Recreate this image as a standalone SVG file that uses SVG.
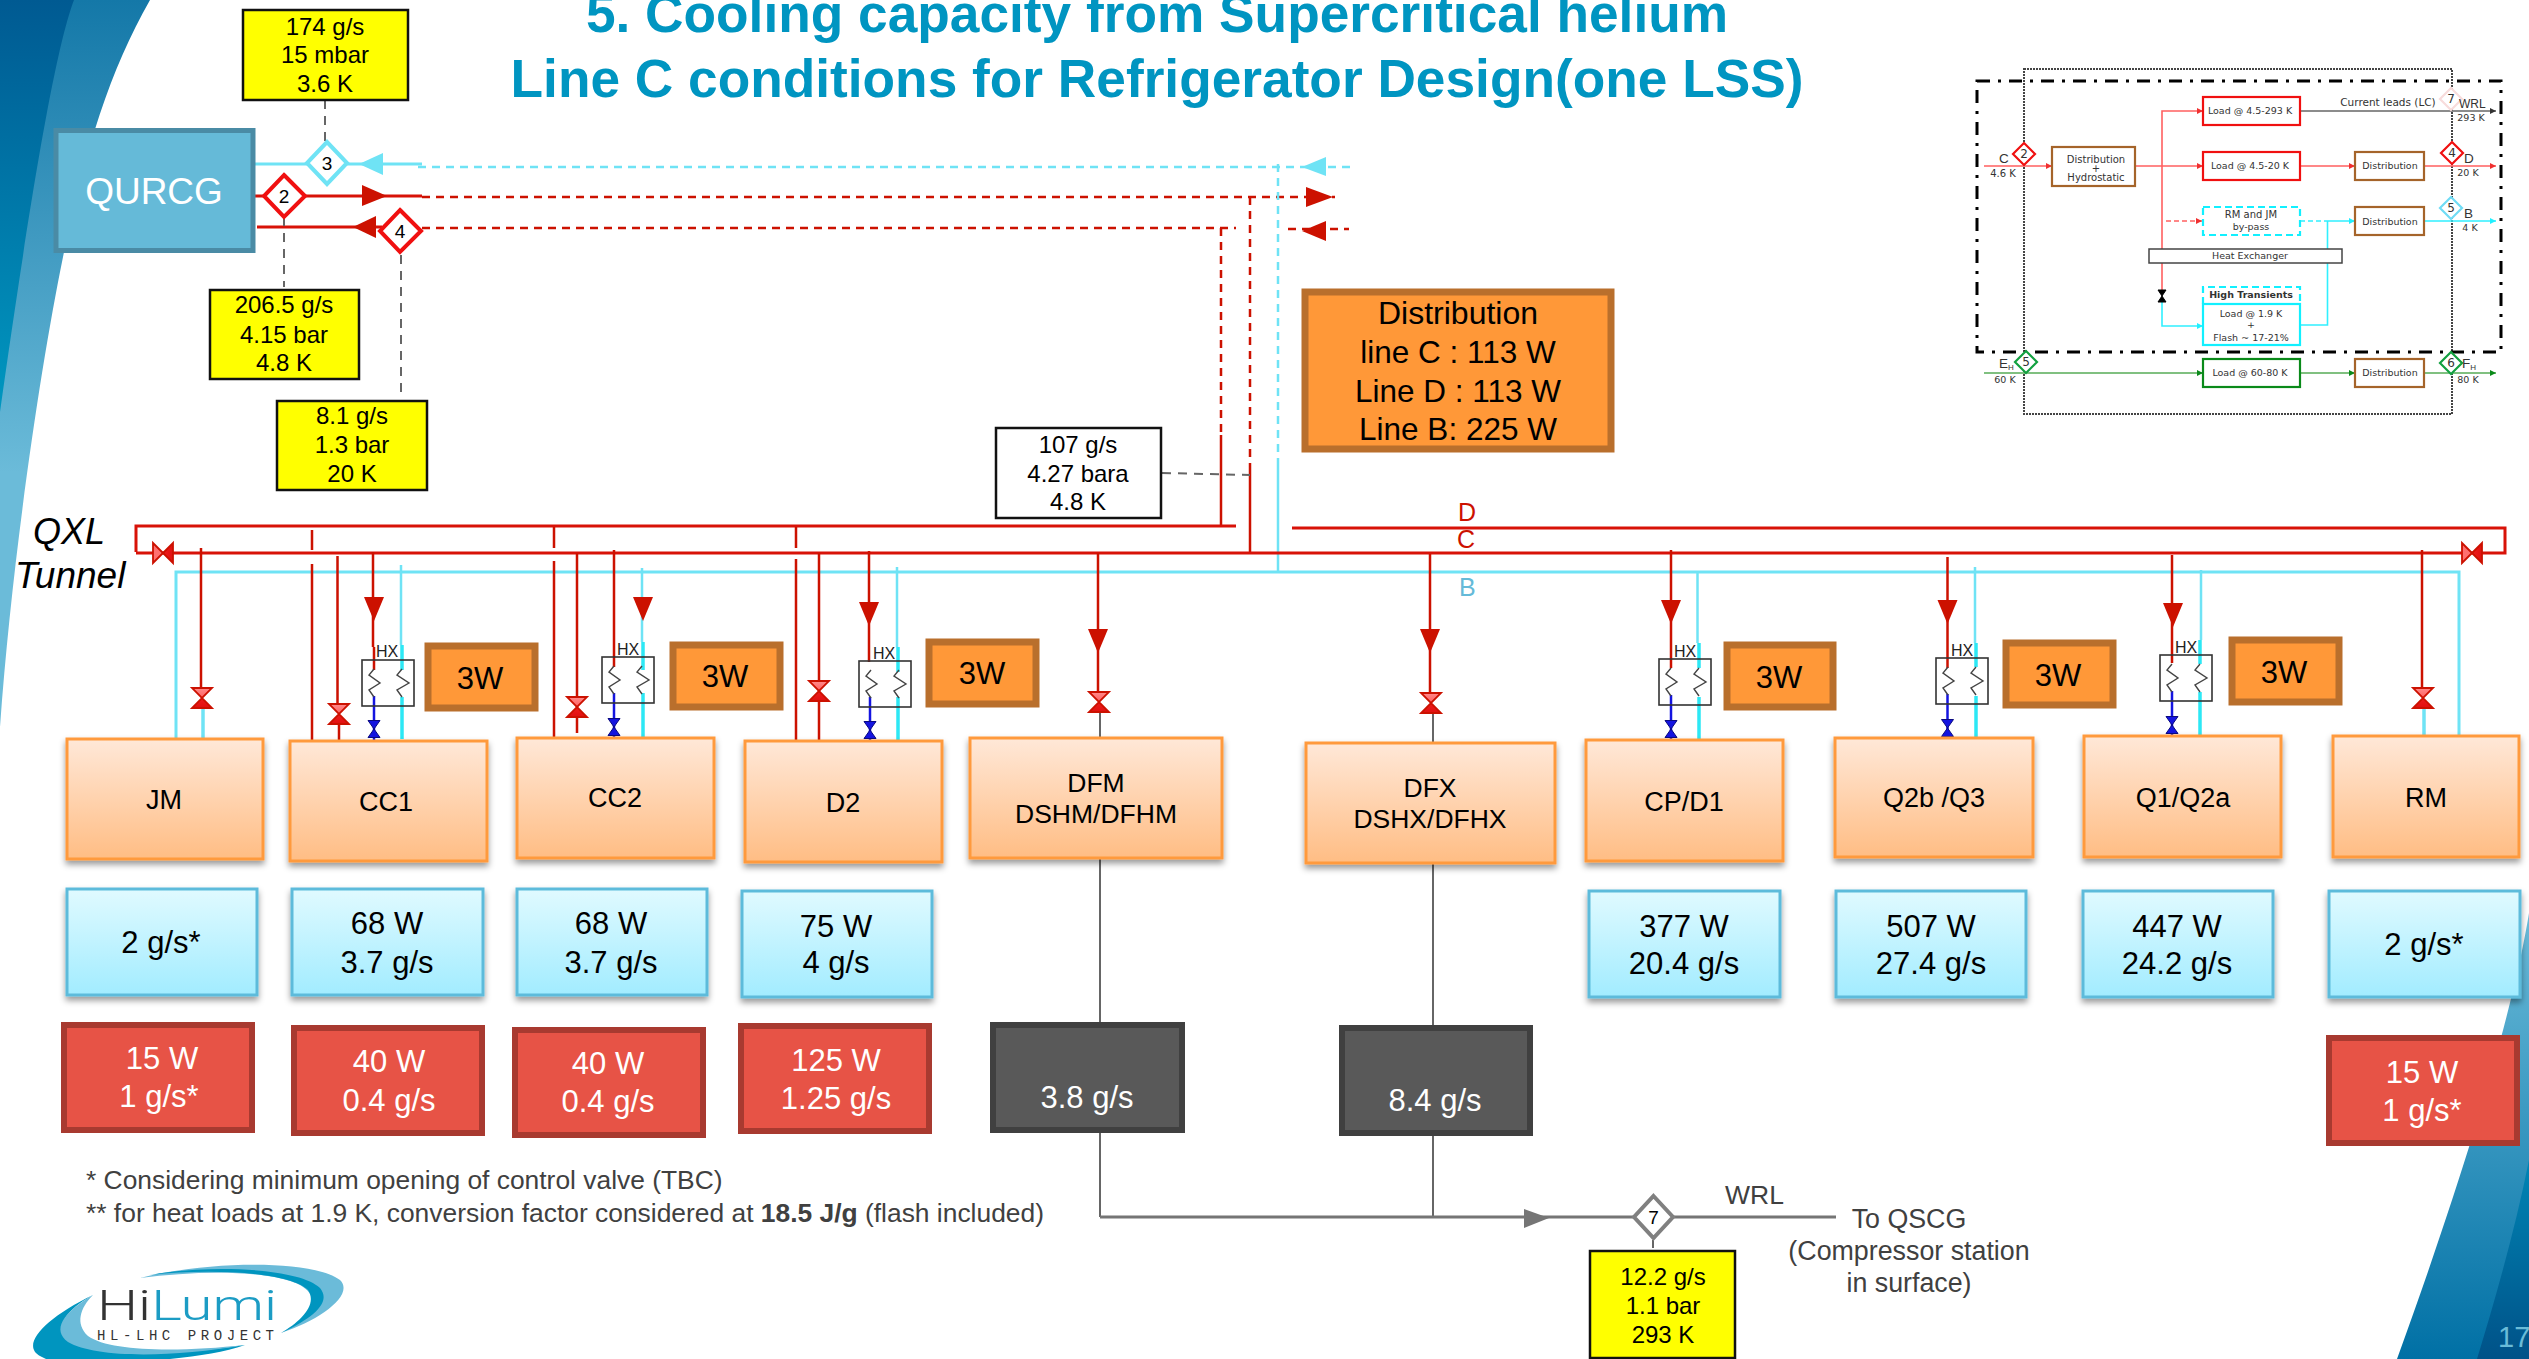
<svg xmlns="http://www.w3.org/2000/svg" width="2529" height="1359" viewBox="0 0 2529 1359">
<style>
text{font-family:"Liberation Sans",Arial,sans-serif;fill:#000}
.m{text-anchor:middle}
.title{font-size:53.25px;font-weight:bold;fill:#0095C1;text-anchor:middle}
.val{font-size:24px;text-anchor:middle}
.box{font-size:27px;text-anchor:middle}
.big{font-size:31px;text-anchor:middle}
.w{fill:#fff}
.note{font-size:26.4px;fill:#404040}
.g{fill:#404040}
.dn{font-size:19px;text-anchor:middle}
.or{fill:url(#orange);stroke:#FF9A3C;stroke-width:3;filter:url(#sh)}
.bl{fill:url(#blue);stroke:#5DBBDB;stroke-width:3;filter:url(#sh)}
.rd{fill:#E75346;stroke:#A83A30;stroke-width:6}
.gy{fill:#595959;stroke:#404040;stroke-width:6}
.w3{fill:#FF9838;stroke:#B96F2C;stroke-width:7}
.ye{fill:#FF0;stroke:#111;stroke-width:2.5}
.hxb{fill:none;stroke:#333;stroke-width:1.6}
.coil{fill:none;stroke:#444;stroke-width:1.4}
.hxt{font-size:16px;text-anchor:middle;fill:#222}
.r{fill:none;stroke:#CC1100;stroke-width:2.5}
.rt{fill:none;stroke:#D81208;stroke-width:3}
.c{fill:none;stroke:#6FE3F5;stroke-width:2.5}
.ct{fill:none;stroke:#6FE3F5;stroke-width:3}
.cb{fill:none;stroke:#2CE8F5;stroke-width:3.5}
.b{fill:none;stroke:#1414E0;stroke-width:2.5}
.k{fill:none;stroke:#666;stroke-width:2}
.kt{fill:none;stroke:#757575;stroke-width:3}
.dk{fill:none;stroke:#666;stroke-width:2;stroke-dasharray:9 7}
.rd2{stroke-dasharray:8 6}
.ar{fill:#CC1100}
.ac{fill:#6FE3F5}
.ak{fill:#757575}
.i{font-family:"DejaVu Sans",sans-serif;font-size:10px;fill:#333;text-anchor:middle}
.is{font-family:"DejaVu Sans",sans-serif;font-size:9.5px;fill:#333;text-anchor:middle}
.il{font-family:"Liberation Sans",sans-serif;font-size:13.5px;fill:#333}
.ir{fill:#fff;stroke:#F01010;stroke-width:2.2}
.ib{fill:#fff;stroke:#A5642A;stroke-width:2.2}
.ic{fill:#fff;stroke:#12F0FF;stroke-width:2.2}
.icd{fill:#fff;stroke:#12F0FF;stroke-width:2.2;stroke-dasharray:7 4}
.ig{fill:#fff;stroke:#0A8A1A;stroke-width:2.2}
.lr{fill:none;stroke:#FF6060;stroke-width:1.6}
.lc{fill:none;stroke:#30F0FF;stroke-width:1.6}
.lg{fill:none;stroke:#80C080;stroke-width:1.8}
.lk{fill:none;stroke:#666;stroke-width:1.6}
</style>
<defs>
<linearGradient id="orange" x1="0" y1="0" x2="0" y2="1"><stop offset="0" stop-color="#FFE8D8"/><stop offset="1" stop-color="#FFBD84"/></linearGradient>
<linearGradient id="blue" x1="0" y1="0" x2="0" y2="1"><stop offset="0" stop-color="#E0FAFF"/><stop offset="1" stop-color="#A2ECFF"/></linearGradient>
<linearGradient id="sw1" x1="0" y1="0" x2="0" y2="1"><stop offset="0" stop-color="#1478A8"/><stop offset=".65" stop-color="#6BBBD9"/></linearGradient>
<linearGradient id="sw2" x1="0" y1="0" x2="0" y2="1"><stop offset="0" stop-color="#005A92"/><stop offset="1" stop-color="#0097C0"/></linearGradient>
<linearGradient id="sw3" x1="0" y1="1" x2="0" y2="0"><stop offset="0" stop-color="#0070A5"/><stop offset="1" stop-color="#6BBBD9"/></linearGradient>
<linearGradient id="sw4" x1="0" y1="1" x2="0" y2="0"><stop offset="0" stop-color="#005288"/><stop offset="1" stop-color="#0085B5"/></linearGradient>
<linearGradient id="vt" x1="0" y1="0" x2="0" y2="1"><stop offset="0" stop-color="#FF8A8A"/><stop offset=".5" stop-color="#FF6060"/><stop offset=".5" stop-color="#EE1C1C"/><stop offset="1" stop-color="#E01010"/></linearGradient>
<linearGradient id="vh" x1="0" y1="0" x2="1" y2="0"><stop offset="0" stop-color="#FF7070"/><stop offset=".5" stop-color="#FF7070"/><stop offset=".5" stop-color="#EE1C1C"/><stop offset="1" stop-color="#E01010"/></linearGradient>
<filter id="sh" x="-10%" y="-10%" width="120%" height="125%"><feDropShadow dx="0" dy="4" stdDeviation="3" flood-color="#000" flood-opacity=".4"/></filter>
<polygon id="vv" points="-10,-10 10,-10 -10,10 10,10" fill="url(#vt)" stroke="#CC1100" stroke-width="1.8"/>
<polygon id="vh1" points="-10,-10 10,10 10,-10 -10,10" fill="url(#vh)" stroke="#CC1100" stroke-width="1.8"/>
<polygon id="vb" points="-6,-8.5 6,-8.5 -6,8.5 6,8.5" fill="#1414E0" stroke="#0A0A80" stroke-width="1"/>
<polygon id="ad" class="ar" points="-10,0 10,0 0,24"/>
<g id="hx">
<rect class="hxb" width="52" height="46"/>
<path class="coil" d="M12 9 L7 15 L18 23 L7 30 L12 37"/>
<path class="coil" d="M40 9 L35 15 L47 23 L35 30 L40 37"/>
</g>
</defs>
<rect width="2529" height="1359" fill="#fff"/>
<g id="background">
<path fill="url(#sw1)" d="M150 0 C110 70 85 150 63 257 C40 370 12 560 0 727 L0 0 Z"/>
<path fill="url(#sw2)" d="M74 0 C55 50 30 200 0 412 L0 0 Z"/>
<path fill="url(#sw3)" d="M2529 913 C2515 1000 2473 1150 2397 1359 L2529 1359 Z"/>
<path fill="url(#sw4)" d="M2529 1160 C2515 1230 2495 1300 2477 1359 L2529 1359 Z"/>
<text x="2498" y="1347" font-size="29" style="fill:#6ABCD8">17</text>
</g>
<text class="title" x="1157" y="32">5. Cooling capacity from Supercritical helium</text>
<text class="title" x="1157" y="97">Line C conditions for Refrigerator Design(one LSS)</text>

<g id="connectors">
<path class="ct" d="M253 164H422"/>
<path class="c rd2" d="M418 167H1350"/>
<path class="rt" d="M253 196H422"/>
<path class="r rd2" d="M422 197H1335"/>
<path class="rt" d="M257 227H382"/>
<path class="r rd2" d="M422 228H1236M1288 229H1349"/>
<path class="r rd2" d="M1221 228V435"/><path class="r" d="M1221 435V526"/>
<path class="r rd2" d="M1250 197V463"/><path class="r" d="M1250 463V552"/>
<path class="c rd2" d="M1278 164V463"/><path class="c" d="M1278 463V572"/>
<polygon class="ac" points="359,164 383,153 383,175"/>
<polygon class="ar" points="387,196 362,185 362,206"/>
<polygon class="ar" points="353,227 376,216 376,238"/>
<polygon class="ac" points="1302,167 1326,157 1326,176"/>
<polygon class="ar" points="1333,197 1306,187 1306,207"/>
<polygon class="ar" points="1302,231 1326,221 1326,241"/>
<path class="dk" d="M325 100V141M284 217V287M401 255V398M1162 473L1250 475"/>
<path class="rt" d="M136 552V526H1236M1292 528H2505V553H136"/>
<path class="ct" d="M176 739V572H2459V738"/>
<path class="r" d="M201 548V690"/><path class="cb" d="M203 708V738" style="stroke:#6FE3F5"/>
<path class="r" d="M312 530V550M312 564V741M554 527V548M554 561V738M796 527V548M796 559V741"/>
<path class="r" d="M337.5 556V705M339 722V742M373 552V647M374 647V670"/>
<path class="b" d="M374 696V740"/>
<path class="c" d="M401 565V645"/><path class="cb" d="M402 645V670M402 697V739"/>
<path class="r" d="M577 553V733M614 550V667"/>
<path class="b" d="M614 693V737"/>
<path class="c" d="M642 568V642"/><path class="cb" d="M643 642V670M643 693V737"/>
<path class="r" d="M819 553V740M869 551V662"/>
<path class="b" d="M870 697V740"/>
<path class="c" d="M897 567V647"/><path class="cb" d="M898 647V672M898 697V740"/>
<path class="r" d="M1098 553V692M1430 554V693"/>
<path class="k" d="M1100 712V737M1433 713V742M1100 858V1217M1433 863V1217"/>
<path class="kt" d="M1100 1217H1836"/>
<polygon class="ak" points="1549,1218 1524,1209 1524,1228"/>
<path class="k" d="M1653 1240V1248"/>
<path class="r" d="M1671 550V668"/><path class="b" d="M1671 695V739"/>
<path class="c" d="M1697.5 573V643"/><path class="cb" d="M1699 643V668M1699 697V739"/>
<path class="r" d="M1947.5 557V668"/><path class="b" d="M1947.5 694V738"/>
<path class="c" d="M1975 567V643"/><path class="cb" d="M1976 643V667M1976 696V738"/>
<path class="r" d="M2172 555V663"/><path class="b" d="M2172 691V735"/>
<path class="c" d="M2201 570V640"/><path class="cb" d="M2200 640V664M2200 692V735"/>
<path class="r" d="M2422 550V690"/><path class="cb" d="M2424 708V738" style="stroke:#6FE3F5"/>
<use href="#ad" x="374" y="597"/><use href="#ad" x="643" y="597"/><use href="#ad" x="869" y="602"/>
<use href="#ad" x="1098" y="629"/><use href="#ad" x="1430" y="629"/><use href="#ad" x="1671" y="600"/>
<use href="#ad" x="1947.5" y="600"/><use href="#ad" x="2173" y="603"/>
<use href="#vh1" x="163" y="553"/><use href="#vh1" x="2472" y="553"/>
<use href="#vv" x="202" y="698"/><use href="#vv" x="339" y="714"/><use href="#vv" x="577" y="707"/>
<use href="#vv" x="819" y="691"/><use href="#vv" x="1099" y="702"/><use href="#vv" x="1431" y="703"/>
<use href="#vv" x="2423" y="698"/>
<use href="#vb" x="374" y="729"/><use href="#vb" x="614" y="727"/><use href="#vb" x="870" y="730"/>
<use href="#vb" x="1671" y="729"/><use href="#vb" x="1947.5" y="728"/><use href="#vb" x="2172" y="725"/>
</g>

<g id="QURCG"><rect x="56" y="130.5" width="197" height="120" fill="#65BAD8" stroke="#4A8BA5" stroke-width="5"/><text class="m w" x="154" y="204" font-size="37" style="fill:#fff">QURCG</text></g>
<g id="d3"><polygon points="327,142 347,163 327,184 307,163" fill="#fff" stroke="#6FE3F5" stroke-width="4"/><text class="dn" x="327" y="170">3</text></g>
<g id="d2"><polygon points="284,175 305,196 284,217 264,196" fill="#fff" stroke="#F01010" stroke-width="4"/><text class="dn" x="284" y="203">2</text></g>
<g id="d4"><polygon points="400,210 421,231 400,252 380,231" fill="#fff" stroke="#F01010" stroke-width="4"/><text class="dn" x="400" y="238">4</text></g>
<g id="d7"><polygon points="1653.5,1196 1673,1217 1653.5,1238 1634,1217" fill="#fff" stroke="#808080" stroke-width="4"/><text class="dn" x="1653.5" y="1224">7</text></g>

<g id="y174"><rect class="ye" x="243" y="10" width="165" height="90"/><text class="val" x="325" y="35">174 g/s</text><text class="val" x="325" y="63">15 mbar</text><text class="val" x="325" y="92">3.6 K</text></g>
<g id="y206"><rect class="ye" x="210" y="290" width="149" height="89"/><text class="val" x="284" y="313">206.5 g/s</text><text class="val" x="284" y="343">4.15 bar</text><text class="val" x="284" y="371">4.8 K</text></g>
<g id="y81"><rect class="ye" x="277" y="401" width="150" height="89"/><text class="val" x="352" y="424">8.1 g/s</text><text class="val" x="352" y="453">1.3 bar</text><text class="val" x="352" y="482">20 K</text></g>
<g id="b107"><rect x="996" y="428" width="165" height="90" fill="#fff" stroke="#111" stroke-width="2.5"/><text class="val" x="1078" y="453">107 g/s</text><text class="val" x="1078" y="482">4.27 bara</text><text class="val" x="1078" y="510">4.8 K</text></g>
<g id="y122"><rect class="ye" x="1590" y="1251" width="145" height="107"/><text class="val" x="1663" y="1285">12.2 g/s</text><text class="val" x="1663" y="1314">1.1 bar</text><text class="val" x="1663" y="1343">293 K</text></g>

<g id="distribution"><rect class="w3" x="1305" y="292" width="306" height="157"/><text class="m" font-size="32" x="1458" y="324">Distribution</text><text class="m" font-size="31.5" x="1458" y="363">line C : 113 W</text><text class="m" font-size="31.5" x="1458" y="402">Line D : 113 W</text><text class="m" font-size="31.5" x="1458" y="440">Line B: 225 W</text></g>

<g id="labels">
<text x="33" y="544" font-size="36" font-style="italic">QXL</text>
<text x="15" y="588" font-size="37" font-style="italic">Tunnel</text>
<text x="1458" y="521" font-size="25" style="fill:#CC1100">D</text>
<text x="1457" y="548" font-size="25" style="fill:#CC1100">C</text>
<text x="1459" y="596" font-size="25" style="fill:#65BAD8">B</text>
<text x="1725" y="1204" font-size="26.5" class="g">WRL</text>
<text class="m g" x="1909" y="1228" font-size="26.8">To QSCG</text>
<text class="m g" x="1909" y="1260" font-size="26.8">(Compressor station</text>
<text class="m g" x="1909" y="1292" font-size="26.8">in surface)</text>
<text class="note" x="86" y="1189">* Considering minimum opening of control valve (TBC)</text>
<text class="note" x="86" y="1222">** for heat loads at 1.9 K, conversion factor considered at <tspan font-weight="bold">18.5 J/g</tspan> (flash included)</text>
</g>

<g id="JM"><rect class="or" x="67" y="739" width="196" height="120"/><text class="box" x="164" y="809">JM</text></g>
<g id="CC1"><rect class="or" x="290" y="741" width="197" height="120"/><text class="box" x="386" y="811">CC1</text></g>
<g id="CC2"><rect class="or" x="517" y="738" width="197" height="120"/><text class="box" x="615" y="807">CC2</text></g>
<g id="D2"><rect class="or" x="745" y="741" width="197" height="121"/><text class="box" x="843" y="812">D2</text></g>
<g id="DFM"><rect class="or" x="970" y="738" width="252" height="120"/><text class="m" font-size="26.5" x="1096" y="792">DFM</text><text class="m" font-size="26.5" x="1096" y="823">DSHM/DFHM</text></g>
<g id="DFX"><rect class="or" x="1306" y="743" width="249" height="120"/><text class="m" font-size="26.5" x="1430" y="797">DFX</text><text class="m" font-size="26.5" x="1430" y="828">DSHX/DFHX</text></g>
<g id="CPD1"><rect class="or" x="1586" y="740" width="197" height="121"/><text class="box" x="1684" y="811">CP/D1</text></g>
<g id="Q2bQ3"><rect class="or" x="1835" y="738" width="198" height="119"/><text class="box" x="1934" y="807">Q2b /Q3</text></g>
<g id="Q1Q2a"><rect class="or" x="2084" y="736" width="197" height="121"/><text class="box" x="2183" y="807">Q1/Q2a</text></g>
<g id="RM"><rect class="or" x="2333" y="736" width="186" height="121"/><text class="box" x="2426" y="807">RM</text></g>

<g id="hx1"><use href="#hx" x="362" y="660"/><text class="hxt" x="387" y="657">HX</text></g>
<g id="hx2"><use href="#hx" x="602" y="657"/><text class="hxt" x="628" y="655">HX</text></g>
<g id="hx3"><use href="#hx" x="859" y="661"/><text class="hxt" x="884" y="659">HX</text></g>
<g id="hx4"><use href="#hx" x="1659" y="659"/><text class="hxt" x="1685" y="657">HX</text></g>
<g id="hx5"><use href="#hx" x="1936" y="658"/><text class="hxt" x="1962" y="656">HX</text></g>
<g id="hx6"><use href="#hx" x="2160" y="655"/><text class="hxt" x="2186" y="653">HX</text></g>

<g id="w1"><rect class="w3" x="428" y="646" width="107" height="62"/><text class="big" x="480" y="689">3W</text></g>
<g id="w2"><rect class="w3" x="673" y="645" width="107" height="62"/><text class="big" x="725" y="687">3W</text></g>
<g id="w3"><rect class="w3" x="929" y="642" width="107" height="62"/><text class="big" x="982" y="684">3W</text></g>
<g id="w4"><rect class="w3" x="1727" y="645" width="106" height="62"/><text class="big" x="1779" y="688">3W</text></g>
<g id="w5"><rect class="w3" x="2006" y="643" width="107" height="62"/><text class="big" x="2058" y="686">3W</text></g>
<g id="w6"><rect class="w3" x="2232" y="640" width="107" height="62"/><text class="big" x="2284" y="683">3W</text></g>

<g id="l1"><rect class="bl" x="67" y="889" width="190" height="106"/><text class="big" x="161" y="953">2 g/s*</text></g>
<g id="l2"><rect class="bl" x="292" y="889" width="191" height="106"/><text class="big" x="387" y="934">68 W</text><text class="big" x="387" y="973">3.7 g/s</text></g>
<g id="l3"><rect class="bl" x="517" y="889" width="190" height="106"/><text class="big" x="611" y="934">68 W</text><text class="big" x="611" y="973">3.7 g/s</text></g>
<g id="l4"><rect class="bl" x="742" y="891" width="190" height="106"/><text class="big" x="836" y="937">75 W</text><text class="big" x="836" y="973">4 g/s</text></g>
<g id="l5"><rect class="bl" x="1589" y="891" width="191" height="106"/><text class="big" x="1684" y="937">377 W</text><text class="big" x="1684" y="974">20.4 g/s</text></g>
<g id="l6"><rect class="bl" x="1836" y="891" width="190" height="106"/><text class="big" x="1931" y="937">507 W</text><text class="big" x="1931" y="974">27.4 g/s</text></g>
<g id="l7"><rect class="bl" x="2083" y="891" width="190" height="106"/><text class="big" x="2177" y="937">447 W</text><text class="big" x="2177" y="974">24.2 g/s</text></g>
<g id="l8"><rect class="bl" x="2329" y="891" width="191" height="106"/><text class="big" x="2424" y="955">2 g/s*</text></g>

<g id="r1"><rect class="rd" x="64" y="1025" width="188" height="105"/><text class="big w" x="162" y="1069">15 W</text><text class="big w" x="159" y="1107">1 g/s*</text></g>
<g id="r2"><rect class="rd" x="294" y="1028" width="188" height="105"/><text class="big w" x="389" y="1072">40 W</text><text class="big w" x="389" y="1111">0.4 g/s</text></g>
<g id="r3"><rect class="rd" x="515" y="1030" width="188" height="105"/><text class="big w" x="608" y="1074">40 W</text><text class="big w" x="608" y="1112">0.4 g/s</text></g>
<g id="r4"><rect class="rd" x="741" y="1026" width="188" height="105"/><text class="big w" x="836" y="1071">125 W</text><text class="big w" x="836" y="1109">1.25 g/s</text></g>
<g id="r5"><rect class="rd" x="2329" y="1038" width="188" height="105"/><text class="big w" x="2422" y="1083">15 W</text><text class="big w" x="2422" y="1121">1 g/s*</text></g>
<g id="gy1"><rect class="gy" x="993" y="1025" width="189" height="105"/><text class="big w" x="1087" y="1108">3.8 g/s</text></g>
<g id="gy2"><rect class="gy" x="1342" y="1028" width="188" height="105"/><text class="big w" x="1435" y="1111">8.4 g/s</text></g>

<g id="logo">
<path fill="#0095BF" d="M93 1295 C45 1318 20 1345 40 1356 L46 1359 L170 1359 C200 1356 225 1352 245 1345 C180 1354 90 1360 62 1332 C60 1318 75 1305 93 1295Z"/>
<path fill="#6BBBD9" d="M93 1295 C62 1313 52 1330 68 1342 C95 1358 170 1358 245 1345 C180 1352 110 1352 88 1336 C75 1324 80 1308 93 1295Z"/>
<path fill="#6BBBD9" d="M140 1278 C200 1262 310 1258 340 1280 C355 1295 320 1320 281 1333 C310 1318 325 1300 300 1285 C270 1270 200 1270 140 1278Z"/>
<path fill="#0095BF" d="M150 1275 C210 1268 290 1272 308 1290 C318 1305 300 1322 281 1333 C320 1315 330 1300 320 1288 C300 1268 210 1264 150 1275Z"/>
<text x="97" y="1320" font-size="42" font-weight="300" textLength="180" lengthAdjust="spacingAndGlyphs" style="font-family:Roboto,sans-serif;fill:#333">Hi<tspan style="fill:#1C9CC4">Lumi</tspan></text>
<text x="97" y="1340" font-size="14" textLength="177" lengthAdjust="spacing" style="font-family:'Liberation Mono',monospace;fill:#333">HL-LHC  PROJECT</text>
</g>

<g id="inset">
<rect x="2024" y="69" width="428" height="345" fill="none" stroke="#444" stroke-width="2" stroke-dasharray="2 1"/>
<rect x="1977" y="81" width="524" height="271" fill="none" stroke="#000" stroke-width="3" stroke-dasharray="13 8 3 8"/>
<g id="inset-connectors">
<path class="lr" d="M1984 166H2052M2135 166H2203M2301 166H2355M2424 166H2496M2162 290V111H2203"/>
<path class="lk" d="M2301 111H2496"/>
<path class="lr" stroke-dasharray="5 3" d="M2166 221H2202"/>
<path class="lc" stroke-dasharray="5 3" d="M2300 221H2326"/>
<path class="lc" d="M2326 221H2355M2300 325H2327.5V221M2424 221H2496M2162 302V326H2203"/>
<path class="lg" d="M1984 373H2203M2300 373H2355M2424 373H2496"/>
<path fill="#F03030" d="M2052 166l-6-3v6zM2203 166l-6-3v6zM2355 166l-6-3v6zM2496 166l-6-3v6zM2203 111l-6-3v6zM2202 221l-6-3v6z"/>
<path fill="#333" d="M2496 111l-6-3v6z"/>
<path fill="#20F0FF" d="M2355 221l-6-3v6zM2496 221l-6-3v6zM2203 326l-6-3v6z"/>
<path fill="#0A8A1A" d="M2203 373l-6-3v6zM2355 373l-6-3v6zM2496 373l-6-3v6z"/>
<polygon points="2158,290 2166,290 2158,302 2166,302" fill="#000" stroke="#000"/>
</g>
<g id="inset-boxes">
<rect class="ib" x="2052" y="147" width="83" height="39"/><text class="i" x="2096" y="163">Distribution</text><text class="i" x="2096" y="172">+</text><text class="i" x="2096" y="181">Hydrostatic</text>
<rect class="ir" x="2203" y="97" width="97" height="28"/><text class="is" x="2250" y="114">Load @ 4.5-293 K</text>
<rect class="ir" x="2203" y="152" width="97" height="28"/><text class="is" x="2250" y="169">Load @ 4.5-20 K</text>
<rect class="icd" x="2203" y="207" width="97" height="28"/><text class="i" x="2251" y="218">RM and JM</text><text class="is" x="2251" y="230">by-pass</text>
<rect x="2149" y="249" width="193" height="14" fill="#fff" stroke="#444" stroke-width="1.5"/><text class="is" x="2250" y="259">Heat Exchanger</text>
<path fill="none" stroke="#12F0FF" stroke-width="2.2" stroke-dasharray="7 4" d="M2203 304V287H2300V304"/>
<text class="is" x="2251" y="298" font-weight="bold">High Transients</text>
<rect class="ic" x="2203" y="304" width="97" height="41"/><text class="is" x="2251" y="317">Load @ 1.9 K</text><text class="is" x="2251" y="328">+</text><text class="is" x="2251" y="341">Flash ~ 17-21%</text>
<rect class="ig" x="2203" y="359" width="97" height="28"/><text class="is" x="2250" y="376">Load @ 60-80 K</text>
<rect class="ib" x="2355" y="152" width="69" height="28"/><text class="is" x="2390" y="169">Distribution</text>
<rect class="ib" x="2355" y="207" width="69" height="28"/><text class="is" x="2390" y="225">Distribution</text>
<rect class="ib" x="2355" y="359" width="69" height="28"/><text class="is" x="2390" y="376">Distribution</text>
</g>
<g id="inset-diamonds">
<polygon points="2024,143 2035,154 2024,165 2013,154" fill="#fff" stroke="#F01010" stroke-width="2.2"/><text class="i" x="2024" y="158" style="font-size:12px">2</text>
<polygon points="2452,142 2463,153 2452,164 2441,153" fill="#fff" stroke="#F01010" stroke-width="2.2"/><text class="i" x="2452" y="157" style="font-size:12px">4</text>
<polygon points="2451,88 2462,99 2451,110 2440,99" fill="#fff" stroke="#F8DCDC" stroke-width="2.2"/><text class="i" x="2451" y="103" style="font-size:12px">7</text>
<polygon points="2451,197 2462,208 2451,219 2440,208" fill="#fff" stroke="#70DCF5" stroke-width="2.2"/><text class="i" x="2451" y="212" style="font-size:12px">5</text>
<polygon points="2026,351 2037,362 2026,373 2015,362" fill="#fff" stroke="#12A040" stroke-width="2.2"/><text class="i" x="2026" y="366" style="font-size:12px">5</text>
<polygon points="2451,352 2462,363 2451,374 2440,363" fill="#fff" stroke="#12A040" stroke-width="2.2"/><text class="i" x="2451" y="367" style="font-size:12px">6</text>
</g>
<text class="il" x="1999" y="163">C</text><text class="i" x="2003" y="177">4.6 K</text>
<text class="i" x="2388" y="106" style="font-size:10.5px">Current leads (LC)</text>
<text class="il" x="2459" y="108" style="font-size:12px">WRL</text><text class="is" x="2471" y="121">293 K</text>
<text class="il" x="2464" y="163">D</text><text class="is" x="2468" y="176">20 K</text>
<text class="il" x="2464" y="218">B</text><text class="is" x="2470" y="231">4 K</text>
<text class="il" x="1999" y="368">E<tspan font-size="8" dy="2">H</tspan></text><text class="is" x="2005" y="383">60 K</text>
<text class="il" x="2462" y="368">F<tspan font-size="8" dy="2">H</tspan></text><text class="is" x="2468" y="383">80 K</text>
</g>
</svg>
